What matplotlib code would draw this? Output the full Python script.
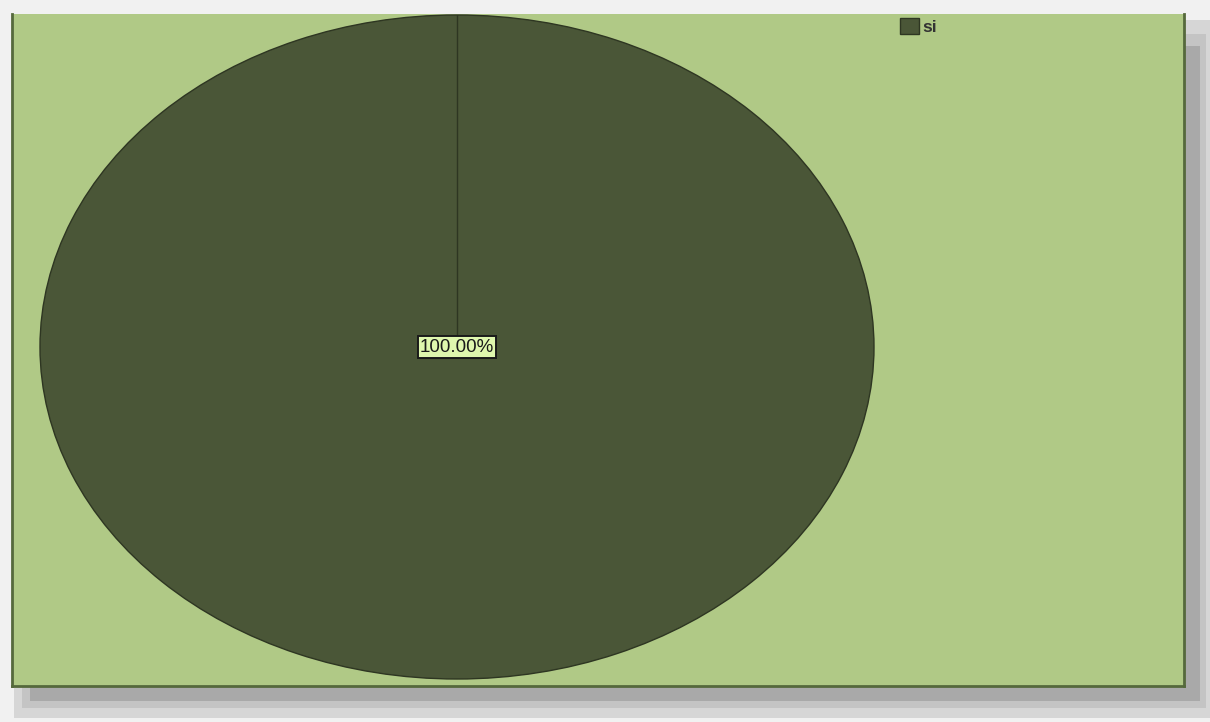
import matplotlib.pyplot as plt
from matplotlib.patches import Rectangle

# datos
categorias = ["si"]
valores = [100.0]
etiquetas = ["100.00%"]

W, H = 1210, 722
fig = plt.figure(figsize=(W / 100, H / 100), dpi=100)
fig.patch.set_facecolor("#f1f1f1")

def fx(px):
    return px / W

def fy(py):
    return 1 - py / H

def caja(x0, y0, x1, y1, color):
    # rectangulo en pixeles de la figura
    fig.patches.append(Rectangle((fx(x0), fy(y1)), fx(x1 - x0), (y1 - y0) / H,
                                 transform=fig.transFigure, facecolor=color,
                                 edgecolor="none", zorder=-10))

# sombra del panel
caja(14, 20, 1212, 718, "#d6d6d6")
caja(22, 34, 1206, 708, "#c4c4c4")
caja(30, 46, 1200, 701, "#a9a9a9")

# panel
panel = fig.add_axes([fx(12), fy(686), fx(1172), 672 / H], zorder=1)
panel.set_facecolor("#b0c986")
for s in panel.spines.values():
    s.set_color("#55693c")
    s.set_linewidth(2)
panel.spines["top"].set_visible(False)
panel.set_xticks([])
panel.set_yticks([])

# pastel (elipse)
ax = fig.add_axes([fx(40), fy(679), fx(834), 664 / H], zorder=2)
ax.set_facecolor("none")
wedges, _ = ax.pie(valores, colors=["#4a5637"], startangle=90, counterclock=False,
                   radius=1, wedgeprops=dict(edgecolor="#2e3622", linewidth=1))
ax.plot([0, 0], [0, 1], color="#2e3622", linewidth=1)
ax.set_aspect("auto")
ax.set_xlim(-1, 1)
ax.set_ylim(-1, 1)
ax.axis("off")
ax.text(0, 0, etiquetas[0], ha="center", va="center", fontsize=13.5,
        family=["Liberation Sans", "DejaVu Sans"], color="#1a1a1a",
        bbox=dict(boxstyle="square,pad=0.12", facecolor="#dff7ae", edgecolor="#1a1a1a", linewidth=1.4))

# leyenda
leg = panel.legend(wedges, categorias, loc="upper left", bbox_to_anchor=(fx(888), fy(6)),
                   bbox_transform=fig.transFigure, frameon=False,
                   prop=dict(family=["Liberation Sans", "DejaVu Sans"], size=12.5, weight="bold"),
                   handlelength=1.1, handleheight=1.0, handletextpad=0.2, borderpad=0.2)
leg.get_texts()[0].set_color("#333333")

fig.savefig("out.png", dpi=100, facecolor=fig.get_facecolor())
